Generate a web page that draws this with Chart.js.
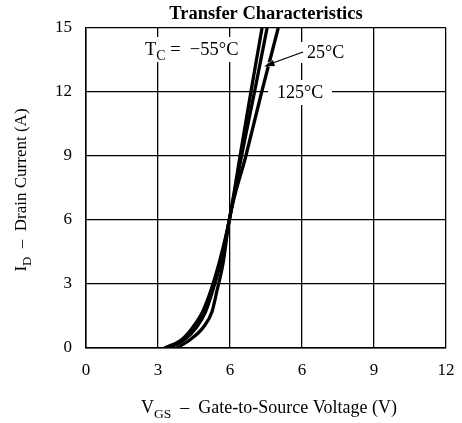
<!DOCTYPE html>
<html>
<head>
<meta charset="UTF-8">
<title>Transfer Characteristics</title>
<script src="https://cdn.jsdelivr.net/npm/chart.js@4.4.0/dist/chart.umd.min.js"></script>
<style>
    html, body { margin: 0; padding: 0; background: #fff; }
    #container { width: 462px; height: 423px; }
</style>
</head>
<body>
<div id="container"><canvas id="transferCanvas" width="462" height="423"></canvas></div>
<script>
// values
var xTickLabels = ['0', '3', '6', '6', '9', '12'];   // printed labels under the 6 grid lines
var yTickLabels = ['0', '3', '6', '9', '12', '15'];
var idPoints   = [0, 0.4, 1.0, 1.7, 2.7, 4.0, 6, 9, 12, 15];
var vgsMinus55 = [1.09, 1.33, 1.49, 1.62, 1.735, 1.85, 1.99, 2.14, 2.29, 2.445];
var vgs25      = [1.15, 1.37, 1.54, 1.66, 1.76, 1.87, 1.99, 2.16, 2.34, 2.515];
var vgs125     = [1.26, 1.45, 1.635, 1.75, 1.82, 1.905, 1.99, 2.22, 2.44, 2.67];

var serif = "'Liberation Serif', 'DejaVu Serif', serif";

function toPoints(xs) {
    return xs.map(function (x, i) { return { x: x, y: idPoints[i] }; });
}

function curve(label, xs) {
    return {
        label: label,
        data: toPoints(xs),
        borderColor: '#000',
        borderWidth: 3.3,
        pointRadius: 0,
        cubicInterpolationMode: 'monotone',
        fill: false
    };
}

// draw text made of parts, some of them subscripted
function partsWidth(ctx, parts, size) {
    var w = 0;
    parts.forEach(function (p) {
        ctx.font = (p.sub ? size * 0.75 : size) + 'px ' + serif;
        w += ctx.measureText(p.t).width;
    });
    return w;
}
function drawParts(ctx, parts, x, y, size, align) {
    var w = partsWidth(ctx, parts, size);
    if (align === 'center') x -= w / 2;
    ctx.textAlign = 'left';
    ctx.textBaseline = 'alphabetic';
    parts.forEach(function (p) {
        ctx.font = (p.sub ? size * 0.75 : size) + 'px ' + serif;
        ctx.fillText(p.t, x, p.sub ? y + size * 0.28 : y);
        x += ctx.measureText(p.t).width;
    });
}

var labelsPlugin = {
    id: 'labelsPlugin',
    beforeDatasetsDraw: function (chart) {
        var ctx = chart.ctx;
        ctx.save();
        // white boxes behind the curve labels, as in the print
        ctx.fillStyle = '#fff';
        ctx.fillRect(140, 37, 104, 25);
        ctx.fillRect(299, 42, 48, 21);
        ctx.fillRect(268, 80, 64, 25);
        ctx.fillStyle = '#000';
        drawParts(ctx, [{ t: 'T' }, { t: 'C', sub: true }, { t: ' =  \u221255\u00b0C' }], 145, 55, 18.5);
        drawParts(ctx, [{ t: '25\u00b0C' }], 307, 58, 18);
        drawParts(ctx, [{ t: '125\u00b0C' }], 277, 98, 18);
        ctx.restore();
    },
    afterDatasetsDraw: function (chart) {
        var ctx = chart.ctx;
        ctx.save();
        // arrow from the 25°C label, with a white halo that breaks the 125°C curve
        ctx.strokeStyle = '#fff';
        ctx.lineWidth = 5;
        ctx.beginPath();
        ctx.moveTo(300, 53);
        ctx.lineTo(268, 65);
        ctx.stroke();
        ctx.strokeStyle = '#000';
        ctx.lineWidth = 1.3;
        ctx.beginPath();
        ctx.moveTo(303, 52);
        ctx.lineTo(270, 64);
        ctx.stroke();
        ctx.fillStyle = '#000';
        ctx.beginPath();
        ctx.moveTo(264, 66.5);
        ctx.lineTo(273, 60);
        ctx.lineTo(275, 66);
        ctx.closePath();
        ctx.fill();

        // title and axis titles
        ctx.textAlign = 'center';
        ctx.textBaseline = 'middle';
        ctx.font = 'bold 18.5px ' + serif;
        ctx.fillText('Transfer Characteristics', 266, 14);

        drawParts(ctx, [{ t: 'V' }, { t: 'GS', sub: true }, { t: '  \u2013  Gate-to-Source Voltage (V)' }], 269, 413, 18, 'center');

        ctx.translate(26, 190);
        ctx.rotate(-Math.PI / 2);
        drawParts(ctx, [{ t: 'I' }, { t: 'D', sub: true }, { t: '  \u2013  Drain Current (A)' }], 0, 0, 17, 'center');
        ctx.restore();
    }
};

window.onload = function () {
    var ctx = document.getElementById('transferCanvas').getContext('2d');
    window.transferChart = new Chart(ctx, {
        type: 'line',
        data: {
            datasets: [
                curve('TC = -55°C', vgsMinus55),
                curve('25°C', vgs25),
                curve('125°C', vgs125)
            ]
        },
        options: {
            responsive: false,
            animation: false,
            devicePixelRatio: 1,
            layout: { padding: { left: 0, right: 16, top: 28, bottom: 0 } },
            plugins: {
                legend: { display: false },
                tooltip: { enabled: false }
            },
            scales: {
                x: {
                    type: 'linear',
                    min: 0,
                    max: 5,
                    afterFit: function (scale) {
                        scale.height = 75;
                        scale.paddingLeft = 0;
                        scale.paddingRight = 0;
                    },
                    grid: { color: '#000', lineWidth: 1.3, drawTicks: false },
                    border: { color: '#000', width: 1.5 },
                    ticks: {
                        stepSize: 1,
                        padding: 12,
                        color: '#000',
                        font: { family: serif, size: 17 },
                        maxRotation: 0,
                        callback: function (v) { return xTickLabels[v]; }
                    }
                },
                y: {
                    min: 0,
                    max: 15,
                    afterFit: function (scale) {
                        scale.width = 86;
                        scale.paddingTop = 0;
                        scale.paddingBottom = 0;
                    },
                    grid: { color: '#000', lineWidth: 1.3, drawTicks: false },
                    border: { color: '#000', width: 1.5 },
                    ticks: {
                        stepSize: 3,
                        padding: 14,
                        color: '#000',
                        font: { family: serif, size: 17 },
                        callback: function (v) { return yTickLabels[v / 3]; }
                    }
                }
            }
        },
        plugins: [labelsPlugin]
    });
};
</script>
</body>
</html>
